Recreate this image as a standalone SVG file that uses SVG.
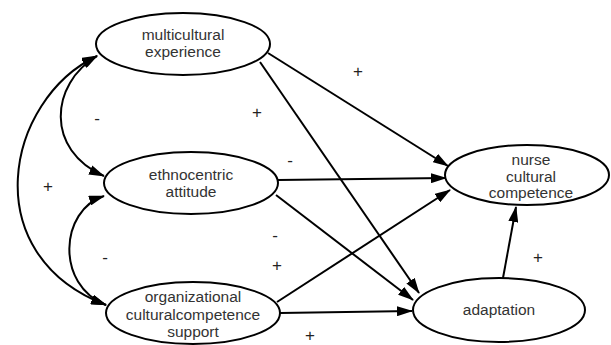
<svg xmlns="http://www.w3.org/2000/svg" width="611" height="345" viewBox="0 0 611 345">
<defs>
<marker id="ah" markerWidth="16" markerHeight="10" refX="15" refY="5" orient="auto-start-reverse" markerUnits="userSpaceOnUse">
<path d="M0,0 L16,5 L0,10 Z" fill="#000"/>
</marker>
<style>
.n ellipse{fill:#fff;stroke:#000;stroke-width:2}
.n text{font-family:"Liberation Sans",Arial,sans-serif;font-size:15.5px;fill:#333;text-anchor:middle}
.c path,.c line{fill:none;stroke:#000;stroke-width:2}
.a{marker-end:url(#ah)}
.b{marker-start:url(#ah);marker-end:url(#ah)}
.l{font-family:"Liberation Sans",Arial,sans-serif;font-size:17px;fill:#222;text-anchor:middle}
</style>
</defs>
<rect width="611" height="345" fill="#fff"/>
<g class="c">
<path class="b" d="M97,56 C50,84 45,150 104,176"/>
<path class="b" d="M97,56 C5,100 -25,255 106,305"/>
<path class="b" d="M104,196 C60,210 55,285 106,305"/>
<line class="a" x1="268" y1="53" x2="448" y2="166"/>
<line class="a" x1="260" y1="62" x2="419" y2="293"/>
<line class="a" x1="278" y1="180" x2="446" y2="178"/>
<line class="a" x1="276" y1="195" x2="413" y2="300"/>
<line class="a" x1="277" y1="302" x2="450" y2="190"/>
<line class="a" x1="280" y1="313" x2="412" y2="311"/>
<line class="a" x1="503" y1="278" x2="516" y2="207"/>
</g>
<g id="multicultural" class="n">
<ellipse cx="183" cy="44" rx="87" ry="31"/>
<text x="183" y="40">multicultural</text>
<text x="183" y="57">experience</text>
</g>
<g id="ethnocentric" class="n">
<ellipse cx="191" cy="183" rx="87" ry="31"/>
<text x="191" y="180">ethnocentric</text>
<text x="191" y="197">attitude</text>
</g>
<g id="organizational" class="n">
<ellipse cx="193" cy="313" rx="87" ry="31"/>
<text x="193" y="302">organizational</text>
<text x="193" y="320">culturalcompetence</text>
<text x="193" y="337">support</text>
</g>
<g id="nurse" class="n">
<ellipse cx="527" cy="175" rx="82" ry="30"/>
<text x="531" y="165">nurse</text>
<text x="531" y="182">cultural</text>
<text x="531" y="198">competence</text>
</g>
<g id="adaptation" class="n">
<ellipse cx="499" cy="310" rx="86" ry="32"/>
<text x="499" y="315">adaptation</text>
</g>
<g id="labels">
<text class="l" x="358" y="77">+</text>
<text class="l" x="257" y="118">+</text>
<text class="l" x="97" y="124">-</text>
<text class="l" x="290" y="166">-</text>
<text class="l" x="48" y="192">+</text>
<text class="l" x="105" y="263">-</text>
<text class="l" x="275" y="241">-</text>
<text class="l" x="277" y="271">+</text>
<text class="l" x="310" y="341">+</text>
<text class="l" x="538" y="263">+</text>
</g>
</svg>
